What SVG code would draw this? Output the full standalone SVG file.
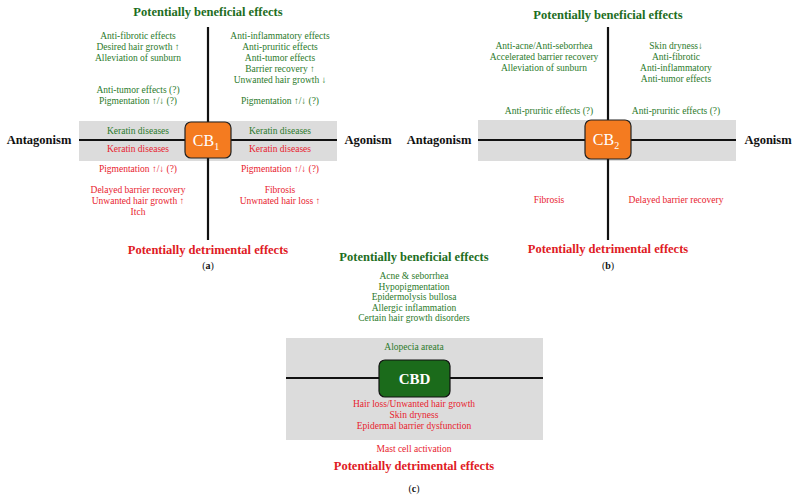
<svg xmlns="http://www.w3.org/2000/svg" width="798" height="498" viewBox="0 0 798 498">
<style>
text{font-family:"Liberation Serif","DejaVu Serif",serif;text-anchor:middle}
.g{fill:#2b7a2b;font-size:9.5px}
.r{fill:#e8222e;font-size:9.5px}
.tg{fill:#1e6e1e;font-size:12.5px;font-weight:bold}
.tr{fill:#e01a24;font-size:12.5px;font-weight:bold}
.ax{fill:#111;font-size:12.5px;font-weight:bold}
.band{fill:#dcdcdc}
.ln{stroke:#111;stroke-width:2.2;fill:none}
.cap{fill:#111;font-size:10px}
</style>
<rect width="798" height="498" fill="#fff"/>
<g id="bands">
<rect class="band" x="79" y="121" width="258" height="40"/>
<rect class="band" x="478" y="120" width="258" height="41"/>
<rect class="band" x="286" y="338" width="257" height="102"/>
</g>
<g id="connectors">
<line class="ln" x1="208" y1="27" x2="208" y2="240"/>
<line class="ln" x1="79" y1="140" x2="337" y2="140"/>
<line class="ln" x1="608" y1="27" x2="608" y2="240"/>
<line class="ln" x1="478" y1="140" x2="736" y2="140"/>
<line class="ln" x1="286" y1="378" x2="543" y2="378"/>
</g>
<g id="panel-a">
<text class="tg" x="208" y="16">Potentially beneficial effects</text>
<text class="tr" x="208" y="254">Potentially detrimental effects</text>
<text class="ax" x="39" y="144">Antagonism</text>
<text class="ax" x="368" y="144">Agonism</text>
<text class="g" x="138" y="39">Anti-fibrotic effects</text>
<text class="g" x="138" y="50">Desired hair growth ↑</text>
<text class="g" x="138" y="61">Alleviation of sunburn</text>
<text class="g" x="138" y="93">Anti-tumor effects (?)</text>
<text class="g" x="138" y="104">Pigmentation ↑/↓ (?)</text>
<text class="g" x="280" y="39">Anti-inflammatory effects</text>
<text class="g" x="280" y="50">Anti-pruritic effects</text>
<text class="g" x="280" y="61">Anti-tumor effects</text>
<text class="g" x="280" y="72">Barrier recovery ↑</text>
<text class="g" x="280" y="83">Unwanted hair growth ↓</text>
<text class="g" x="280" y="104">Pigmentation ↑/↓ (?)</text>
<text class="g" x="138" y="134">Keratin diseases</text>
<text class="g" x="280" y="134">Keratin diseases</text>
<text class="r" x="138" y="152">Keratin diseases</text>
<text class="r" x="280" y="152">Keratin diseases</text>
<text class="r" x="138" y="172">Pigmentation ↑/↓ (?)</text>
<text class="r" x="280" y="172">Pigmentation ↑/↓ (?)</text>
<text class="r" x="138" y="193">Delayed barrier recovery</text>
<text class="r" x="138" y="204">Unwanted hair growth ↑</text>
<text class="r" x="138" y="215">Itch</text>
<text class="r" x="280" y="193">Fibrosis</text>
<text class="r" x="280" y="204">Unwnated hair loss ↑</text>
<text class="cap" x="208" y="269">(<tspan font-weight="bold">a</tspan>)</text>
</g>
<g id="cb1">
<rect x="185" y="122" width="46" height="36" rx="6" fill="#f47b20" stroke="#222" stroke-width="1.2"/>
<text x="206" y="146" fill="#fff" font-size="16px">CB<tspan font-size="10px" dy="4">1</tspan></text>
</g>
<g id="panel-b">
<text class="tg" x="608" y="19">Potentially beneficial effects</text>
<text class="tr" x="608" y="253">Potentially detrimental effects</text>
<text class="ax" x="439" y="144">Antagonism</text>
<text class="ax" x="768" y="144">Agonism</text>
<text class="g" x="544" y="49">Anti-acne/Anti-seborrhea</text>
<text class="g" x="544" y="60">Accelerated barrier recovery</text>
<text class="g" x="544" y="71">Alleviation of sunburn</text>
<text class="g" x="676" y="49">Skin dryness↓</text>
<text class="g" x="676" y="60">Anti-fibrotic</text>
<text class="g" x="676" y="71">Anti-inflammatory</text>
<text class="g" x="676" y="82">Anti-tumor effects</text>
<text class="g" x="549" y="114">Anti-pruritic effects (?)</text>
<text class="g" x="676" y="114">Anti-pruritic effects (?)</text>
<text class="r" x="549" y="203">Fibrosis</text>
<text class="r" x="676" y="203">Delayed barrier recovery</text>
<text class="cap" x="608" y="269">(<tspan font-weight="bold">b</tspan>)</text>
</g>
<g id="cb2">
<rect x="585" y="120" width="46" height="39" rx="6" fill="#f47b20" stroke="#222" stroke-width="1.2"/>
<text x="606" y="145" fill="#fff" font-size="16px">CB<tspan font-size="10px" dy="4">2</tspan></text>
</g>
<g id="panel-c">
<text class="tg" x="414" y="261">Potentially beneficial effects</text>
<text class="g" x="414" y="279">Acne &amp; seborrhea</text>
<text class="g" x="414" y="290">Hypopigmentation</text>
<text class="g" x="414" y="300">Epidermolysis bullosa</text>
<text class="g" x="414" y="311">Allergic inflammation</text>
<text class="g" x="414" y="321">Certain hair growth disorders</text>
<text class="g" x="414" y="350">Alopecia areata</text>
<text class="r" x="414" y="407">Hair loss/Unwanted hair growth</text>
<text class="r" x="414" y="418">Skin dryness</text>
<text class="r" x="414" y="429">Epidermal barrier dysfunction</text>
<text class="r" x="414" y="452">Mast cell activation</text>
<text class="tr" x="414" y="470">Potentially detrimental effects</text>
<text class="cap" x="414" y="492">(<tspan font-weight="bold">c</tspan>)</text>
</g>
<g id="cbd">
<rect x="379" y="360" width="71" height="37" rx="6" fill="#1b6b1b" stroke="#111" stroke-width="1.2"/>
<text x="414.5" y="384" fill="#fff" font-size="15px" font-weight="bold">CBD</text>
</g>
</svg>
